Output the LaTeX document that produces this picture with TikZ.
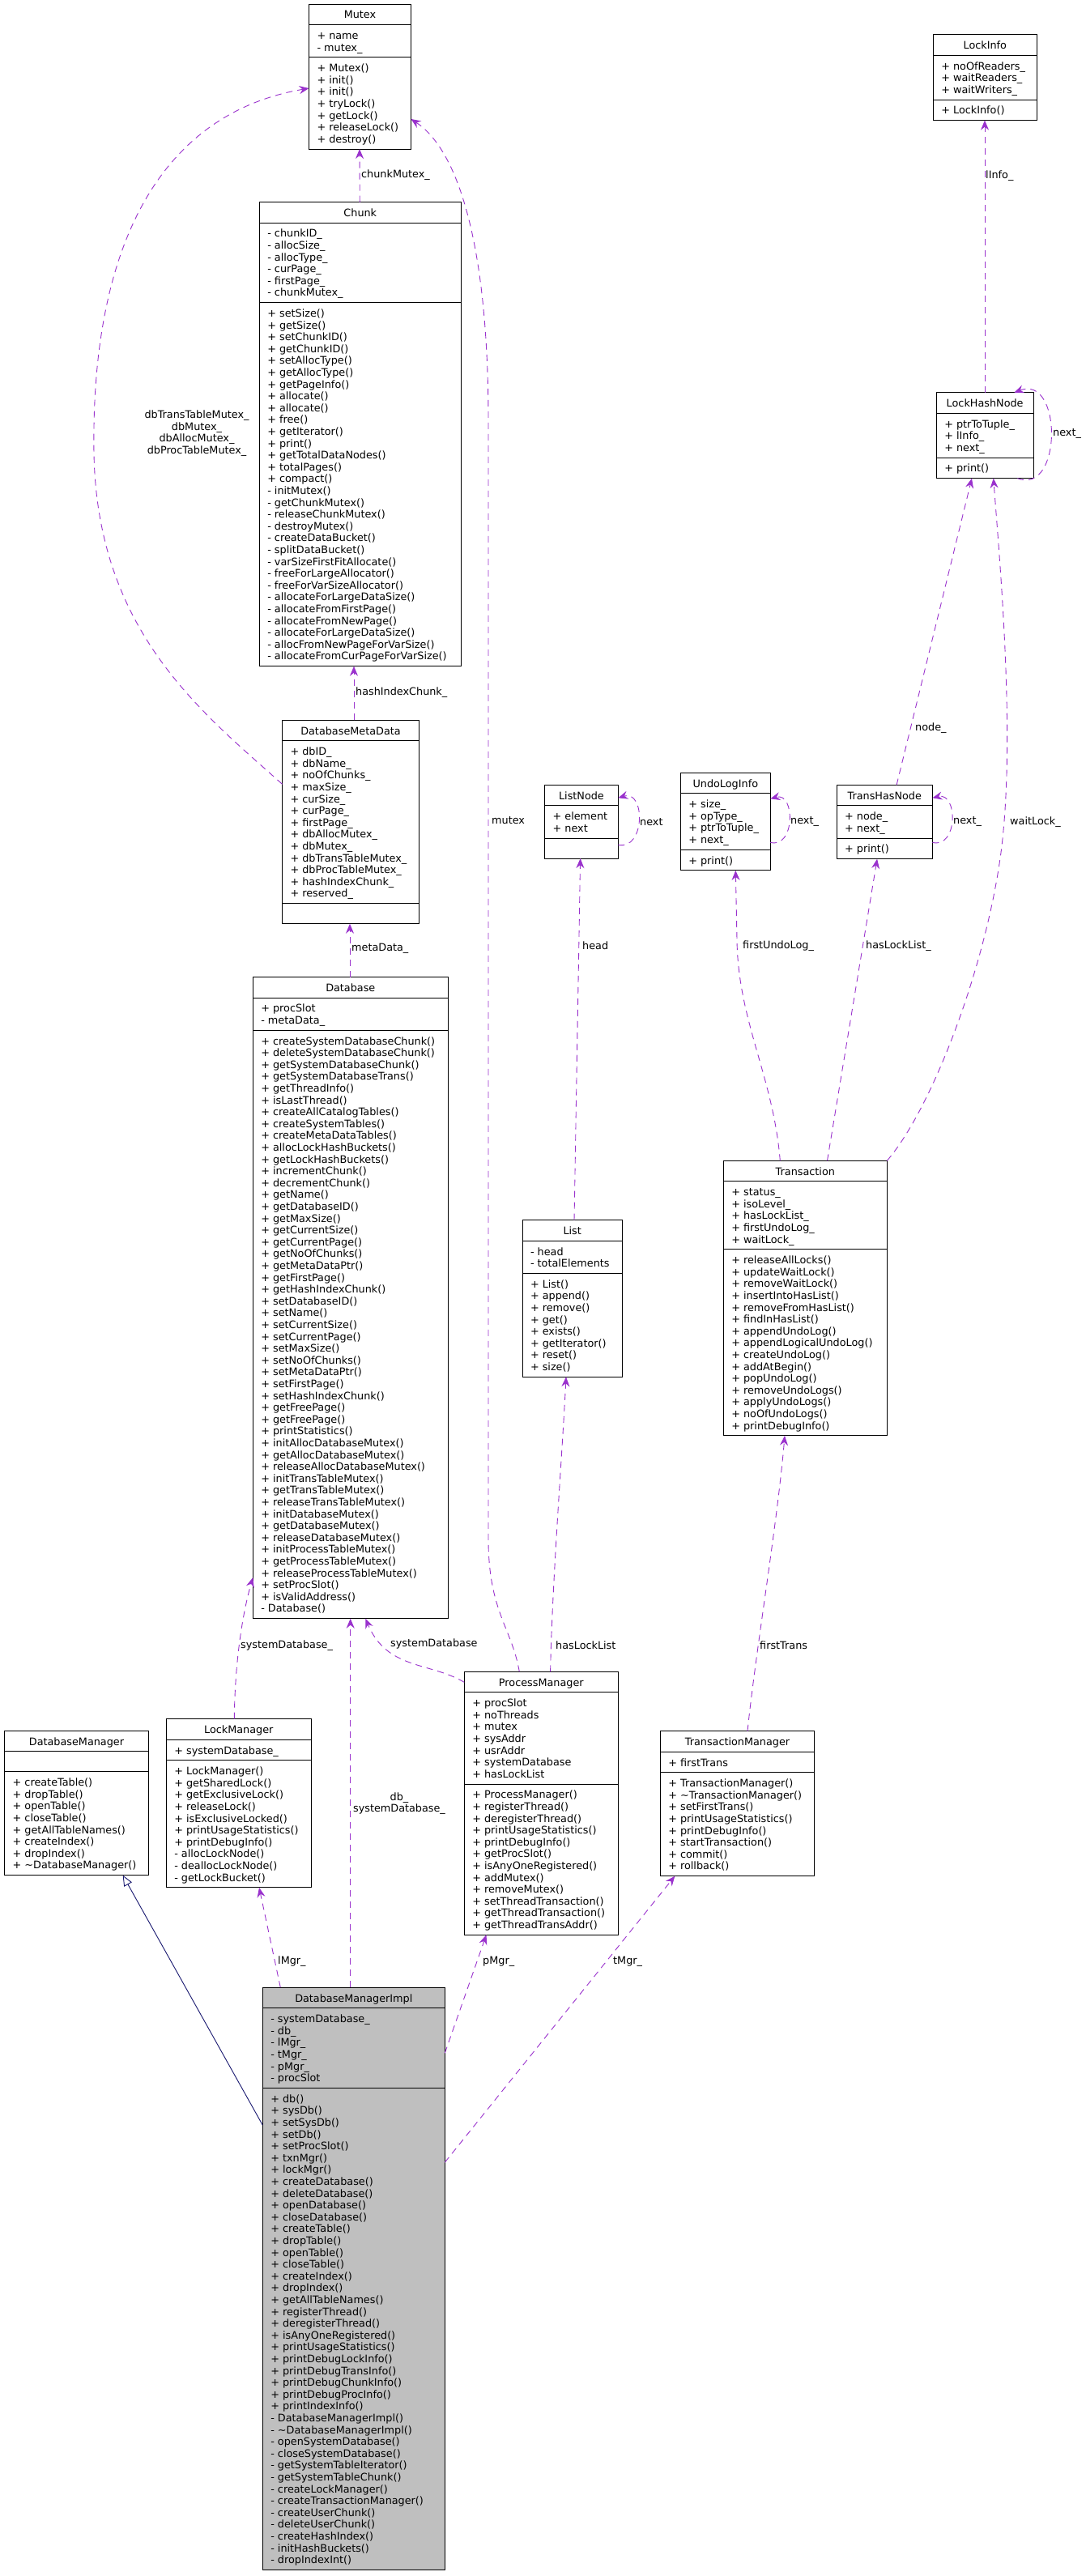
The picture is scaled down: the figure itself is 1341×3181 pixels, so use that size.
\documentclass[tikz,border=0pt]{standalone}
\usepackage{fontspec}
\setmainfont{DejaVu Sans}
\usetikzlibrary{arrows.meta,calc}
\definecolor{edgepurple}{HTML}{9A32CD}
\definecolor{inhnavy}{HTML}{191970}
\definecolor{implgray}{HTML}{BFBFBF}
\newcommand\umllines[1]{\begin{tabular}[t]{@{}l@{}}#1\end{tabular}}
\tikzset{
  classbox/.style={draw=black, fill=white, line width=1pt, inner sep=0pt, outer sep=0pt},
  implbox/.style={fill=implgray},
  divider/.style={draw=black, line width=1pt},
  txt/.style={font=\fontsize{12.8}{14.6}\selectfont, inner sep=0pt, outer sep=0pt},
  lbl/.style={font=\fontsize{12.8}{14.6}\selectfont, inner sep=0pt, anchor=west},
  dep/.style={draw=edgepurple, line width=0.9pt, dash pattern=on 8pt off 6pt,
    -{Stealth[length=12pt,width=10pt,inset=4pt,fill=edgepurple,line width=0.9pt]}},
  inh/.style={draw=inhnavy, line width=0.9pt,
    -{Triangle[open,length=13pt,width=11pt,fill=white,line width=0.9pt]}},
}
% #1 name, #2 extra style, #3 position, #4 width, #5 title, #6 #attrs, #7 attrs, #8 #methods, #9 methods
\newcommand\umlclass[9]{%
  \pgfmathsetmacro\clsA{(#6>0) ? (#6*14.6+11) : 25}%
  \pgfmathsetmacro\clsM{(#8>0) ? (#8*14.6+11) : 25}%
  \pgfmathsetmacro\clsH{25.6+\clsA+\clsM}%
  \node[classbox,#2,minimum width=#4pt,minimum height=\clsH pt,anchor=north west] (#1) at #3 {};
  \draw[divider] ($(#1.north west)+(0,25.6)$) -- ($(#1.north east)+(0,25.6)$);
  \draw[divider] ($(#1.north west)+(0,{25.6+\clsA})$) -- ($(#1.north east)+(0,{25.6+\clsA})$);
  \node[txt,anchor=base] (#1-t) at ($(#1.north)+(0,17.8)$) {#5};
  \ifnum#6>0 \node[txt,anchor=base west] (#1-a) at ($(#1.north west)+(10,{25.6+17.8})$) {\umllines{#7}};\fi
  \ifnum#8>0 \node[txt,anchor=base west] (#1-m) at ($(#1.north west)+(10,{25.6+\clsA+17.8})$) {\umllines{#9}};\fi
}
\begin{document}
\begin{tikzpicture}[x=1pt,y=-1pt]
\fill[white] (0,0) rectangle (1341,3181);
\useasboundingbox (0,0) rectangle (1341,3181);

\umlclass{mutex}{}{(381.5,5)}{126}{Mutex}{2}{+ name\\- mutex\_}{7}{+ Mutex()\\+ init()\\+ init()\\+ tryLock()\\+ getLock()\\+ releaseLock()\\+ destroy()}

\umlclass{chunk}{}{(320.3,249.5)}{249}{Chunk}{6}{- chunkID\_\\- allocSize\_\\- allocType\_\\- curPage\_\\- firstPage\_\\- chunkMutex\_}{30}{+ setSize()\\+ getSize()\\+ setChunkID()\\+ getChunkID()\\+ setAllocType()\\+ getAllocType()\\+ getPageInfo()\\+ allocate()\\+ allocate()\\+ free()\\+ getIterator()\\+ print()\\+ getTotalDataNodes()\\+ totalPages()\\+ compact()\\- initMutex()\\- getChunkMutex()\\- releaseChunkMutex()\\- destroyMutex()\\- createDataBucket()\\- splitDataBucket()\\- varSizeFirstFitAllocate()\\- freeForLargeAllocator()\\- freeForVarSizeAllocator()\\- allocateForLargeDataSize()\\- allocateFromFirstPage()\\- allocateFromNewPage()\\- allocateForLargeDataSize()\\- allocFromNewPageForVarSize()\\- allocateFromCurPageForVarSize()}

\umlclass{dmd}{}{(348.5,889.3)}{169}{DatabaseMetaData}{13}{+ dbID\_\\+ dbName\_\\+ noOfChunks\_\\+ maxSize\_\\+ curSize\_\\+ curPage\_\\+ firstPage\_\\+ dbAllocMutex\_\\+ dbMutex\_\\+ dbTransTableMutex\_\\+ dbProcTableMutex\_\\+ hashIndexChunk\_\\+ reserved\_}{0}{}

\umlclass{db}{}{(312.3,1206.5)}{241}{Database}{2}{+ procSlot\\- metaData\_}{49}{+ createSystemDatabaseChunk()\\+ deleteSystemDatabaseChunk()\\+ getSystemDatabaseChunk()\\+ getSystemDatabaseTrans()\\+ getThreadInfo()\\+ isLastThread()\\+ createAllCatalogTables()\\+ createSystemTables()\\+ createMetaDataTables()\\+ allocLockHashBuckets()\\+ getLockHashBuckets()\\+ incrementChunk()\\+ decrementChunk()\\+ getName()\\+ getDatabaseID()\\+ getMaxSize()\\+ getCurrentSize()\\+ getCurrentPage()\\+ getNoOfChunks()\\+ getMetaDataPtr()\\+ getFirstPage()\\+ getHashIndexChunk()\\+ setDatabaseID()\\+ setName()\\+ setCurrentSize()\\+ setCurrentPage()\\+ setMaxSize()\\+ setNoOfChunks()\\+ setMetaDataPtr()\\+ setFirstPage()\\+ setHashIndexChunk()\\+ getFreePage()\\+ getFreePage()\\+ printStatistics()\\+ initAllocDatabaseMutex()\\+ getAllocDatabaseMutex()\\+ releaseAllocDatabaseMutex()\\+ initTransTableMutex()\\+ getTransTableMutex()\\+ releaseTransTableMutex()\\+ initDatabaseMutex()\\+ getDatabaseMutex()\\+ releaseDatabaseMutex()\\+ initProcessTableMutex()\\+ getProcessTableMutex()\\+ releaseProcessTableMutex()\\+ setProcSlot()\\+ isValidAddress()\\- Database()}

\umlclass{lockinfo}{}{(1152.3,42.6)}{128}{LockInfo}{3}{+ noOfReaders\_\\+ waitReaders\_\\+ waitWriters\_}{1}{+ LockInfo()}

\umlclass{lhn}{}{(1156.3,484.7)}{119.7}{LockHashNode}{3}{+ ptrToTuple\_\\+ lInfo\_\\+ next\_}{1}{+ print()}

\umlclass{listnode}{}{(672.6,969.3)}{90.7}{ListNode}{2}{+ element\\+ next}{0}{}

\umlclass{undo}{}{(840.3,954.3)}{111}{UndoLogInfo}{4}{+ size\_\\+ opType\_\\+ ptrToTuple\_\\+ next\_}{1}{+ print()}

\umlclass{ths}{}{(1033.1,969.3)}{118.3}{TransHasNode}{2}{+ node\_\\+ next\_}{1}{+ print()}

\umlclass{list}{}{(645,1506.7)}{123.4}{List}{2}{- head\\- totalElements}{8}{+ List()\\+ append()\\+ remove()\\+ get()\\+ exists()\\+ getIterator()\\+ reset()\\+ size()}

\umlclass{trans}{}{(893.3,1433.3)}{202}{Transaction}{5}{+ status\_\\+ isoLevel\_\\+ hasLockList\_\\+ firstUndoLog\_\\+ waitLock\_}{15}{+ releaseAllLocks()\\+ updateWaitLock()\\+ removeWaitLock()\\+ insertIntoHasList()\\+ removeFromHasList()\\+ findInHasList()\\+ appendUndoLog()\\+ appendLogicalUndoLog()\\+ createUndoLog()\\+ addAtBegin()\\+ popUndoLog()\\+ removeUndoLogs()\\+ applyUndoLogs()\\+ noOfUndoLogs()\\+ printDebugInfo()}

\umlclass{dm}{}{(5.7,2137.3)}{177.6}{DatabaseManager}{0}{}{8}{+ createTable()\\+ dropTable()\\+ openTable()\\+ closeTable()\\+ getAllTableNames()\\+ createIndex()\\+ dropIndex()\\+ \textasciitilde DatabaseManager()}

\umlclass{lm}{}{(205.3,2122.7)}{179}{LockManager}{1}{+ systemDatabase\_}{10}{+ LockManager()\\+ getSharedLock()\\+ getExclusiveLock()\\+ releaseLock()\\+ isExclusiveLocked()\\+ printUsageStatistics()\\+ printDebugInfo()\\- allocLockNode()\\- deallocLockNode()\\- getLockBucket()}

\umlclass{pm}{}{(573.3,2064.3)}{190}{ProcessManager}{7}{+ procSlot\\+ noThreads\\+ mutex\\+ sysAddr\\+ usrAddr\\+ systemDatabase\\+ hasLockList}{12}{+ ProcessManager()\\+ registerThread()\\+ deregisterThread()\\+ printUsageStatistics()\\+ printDebugInfo()\\+ getProcSlot()\\+ isAnyOneRegistered()\\+ addMutex()\\+ removeMutex()\\+ setThreadTransaction()\\+ getThreadTransaction()\\+ getThreadTransAddr()}

\umlclass{tm}{}{(815.3,2137.7)}{190.4}{TransactionManager}{1}{+ firstTrans}{8}{+ TransactionManager()\\+ \textasciitilde TransactionManager()\\+ setFirstTrans()\\+ printUsageStatistics()\\+ printDebugInfo()\\+ startTransaction()\\+ commit()\\+ rollback()}

\umlclass{dmi}{implbox}{(324.3,2454.2)}{225}{DatabaseManagerImpl}{6}{- systemDatabase\_\\- db\_\\- lMgr\_\\- tMgr\_\\- pMgr\_\\- procSlot}{40}{+ db()\\+ sysDb()\\+ setSysDb()\\+ setDb()\\+ setProcSlot()\\+ txnMgr()\\+ lockMgr()\\+ createDatabase()\\+ deleteDatabase()\\+ openDatabase()\\+ closeDatabase()\\+ createTable()\\+ dropTable()\\+ openTable()\\+ closeTable()\\+ createIndex()\\+ dropIndex()\\+ getAllTableNames()\\+ registerThread()\\+ deregisterThread()\\+ isAnyOneRegistered()\\+ printUsageStatistics()\\+ printDebugLockInfo()\\+ printDebugTransInfo()\\+ printDebugChunkInfo()\\+ printDebugProcInfo()\\+ printIndexInfo()\\- DatabaseManagerImpl()\\- \textasciitilde DatabaseManagerImpl()\\- openSystemDatabase()\\- closeSystemDatabase()\\- getSystemTableIterator()\\- getSystemTableChunk()\\- createLockManager()\\- createTransactionManager()\\- createUserChunk()\\- deleteUserChunk()\\- createHashIndex()\\- initHashBuckets()\\- dropIndexInt()}

% ---------- connectors ----------
\draw[dep] ($(chunk.north west)+(124,0)$) -- ($(mutex.south west)+(62.5,0)$);
\node[lbl] (l-chunkmutex) at (446,216) {chunkMutex\_};

\draw[dep] ($(dmd.north west)+(88.5,0)$) -- ($(chunk.south west)+(116.7,0)$);
\node[lbl] (l-hashindex) at (439,855) {hashIndexChunk\_};

\draw[dep] ($(db.north west)+(119.7,0)$) -- ($(dmd.south west)+(83.5,0)$);
\node[lbl] (l-metadata) at (434,1171) {metaData\_};

\draw[dep] ($(dmd.north west)+(0,79)$) .. controls (250,880) and (120,780) .. (116,560)
  .. controls (112,300) and (200,140) .. ($(mutex.north west)+(0,104)$);
\node[txt,align=center] (l-dbmutexes) at (243,535) {dbTransTableMutex\_\\dbMutex\_\\dbAllocMutex\_\\dbProcTableMutex\_};

\draw[dep] ($(pm.north west)+(68,0)$) .. controls (632,2010) and (603,1990) .. (603,1900)
  -- (603,520) .. controls (603,300) and (565,185) .. ($(mutex.north east)+(0,142)$);
\node[lbl] (l-mutex) at (607,1013) {mutex};

\draw[dep] ($(lhn.north west)+(59.7,0)$) -- ($(lockinfo.south west)+(63.7,0)$);
\node[lbl] (l-linfo) at (1217,217) {lInfo\_};

\draw[dep] ($(lhn.south west)+(100,0)$) .. controls (1312,612) and (1312,462) .. ($(lhn.north west)+(96,0)$);
\node[lbl] (l-lhnnext) at (1300,536) {next\_};

\draw[dep] ($(listnode.north east)+(0,74)$) .. controls (797,1050) and (797,975) .. ($(listnode.north east)+(0,16)$);
\node[lbl] (l-listnext) at (790,1015) {next};

\draw[dep] ($(undo.north east)+(0,86)$) .. controls (982,1048) and (982,978) .. ($(undo.north east)+(0,32)$);
\node[lbl] (l-undonext) at (976,1015) {next\_};

\draw[dep] ($(ths.north east)+(0,71)$) .. controls (1183,1048) and (1183,978) .. ($(ths.north east)+(0,16)$);
\node[lbl] (l-thsnext) at (1177,1015) {next\_};

\draw[dep] ($(list.north west)+(64,0)$) -- ($(listnode.south west)+(44,0)$);
\node[lbl] (l-head) at (719,1168) {head};

\draw[dep] ($(trans.north west)+(70,0)$) .. controls (955,1330) and (911,1260) .. (910,1160) -- ($(undo.south west)+(68,0)$);
\node[lbl] (l-firstundo) at (917,1168) {firstUndoLog\_};

\draw[dep] ($(trans.north west)+(128.2,0)$) -- ($(ths.south west)+(50,0)$);
\node[lbl] (l-haslocklist1) at (1069,1168) {hasLockList\_};

\draw[dep] ($(ths.north west)+(74,0)$) -- ($(lhn.south west)+(43.7,0)$);
\node[lbl] (l-node) at (1130,899) {node\_};

\draw[dep] (trans.north east) .. controls (1150,1370) and (1215,1200) .. (1235,1060)
  .. controls (1255,920) and (1235,700) .. ($(lhn.south west)+(70.4,0)$);
\node[lbl] (l-waitlock) at (1247,1015) {waitLock\_};

\draw[dep] ($(tm.north west)+(107.7,0)$) .. controls (933,2040) and (960,1880) .. ($(trans.south west)+(75.7,0)$);
\node[lbl] (l-firsttrans) at (938,2032) {firstTrans};

\draw[dep] ($(pm.north west)+(106.3,0)$) .. controls (682,1950) and (694,1800) .. ($(list.south west)+(54,0)$);
\node[lbl] (l-haslocklist2) at (686,2032) {hasLockList};

\draw[dep] ($(pm.north west)+(0,13)$) .. controls (530,2052) and (478,2062) .. ($(db.south west)+(139,0)$);
\node[lbl] (l-sysdb2) at (482,2030) {systemDatabase};

\draw[dep] ($(lm.north west)+(84,0)$) .. controls (290,2050) and (300,1990) .. ($(db.south west)+(0,-50.7)$);
\node[lbl] (l-sysdb1) at (297,2032) {systemDatabase\_};

\draw[dep] ($(dmi.north west)+(108.4,0)$) -- ($(db.south west)+(120.4,0)$);
\node[txt,align=center] (l-db) at (493,2227) {db\_\\systemDatabase\_};

\draw[dep] ($(dmi.north west)+(22,0)$) -- ($(lm.south west)+(114.7,0)$);
\node[lbl] (l-lmgr) at (343,2422) {lMgr\_};

\draw[dep] ($(dmi.north east)+(0,81)$) -- ($(pm.south west)+(27.2,0)$);
\node[lbl] (l-pmgr) at (596,2422) {pMgr\_};

\draw[dep] ($(dmi.north east)+(0,216)$) -- ($(tm.south west)+(18,0)$);
\node[lbl] (l-tmgr) at (757,2422) {tMgr\_};

\draw[inh] ($(dmi.north west)+(0,170)$) -- ($(dm.south west)+(146,0)$);
\end{tikzpicture}
\end{document}
